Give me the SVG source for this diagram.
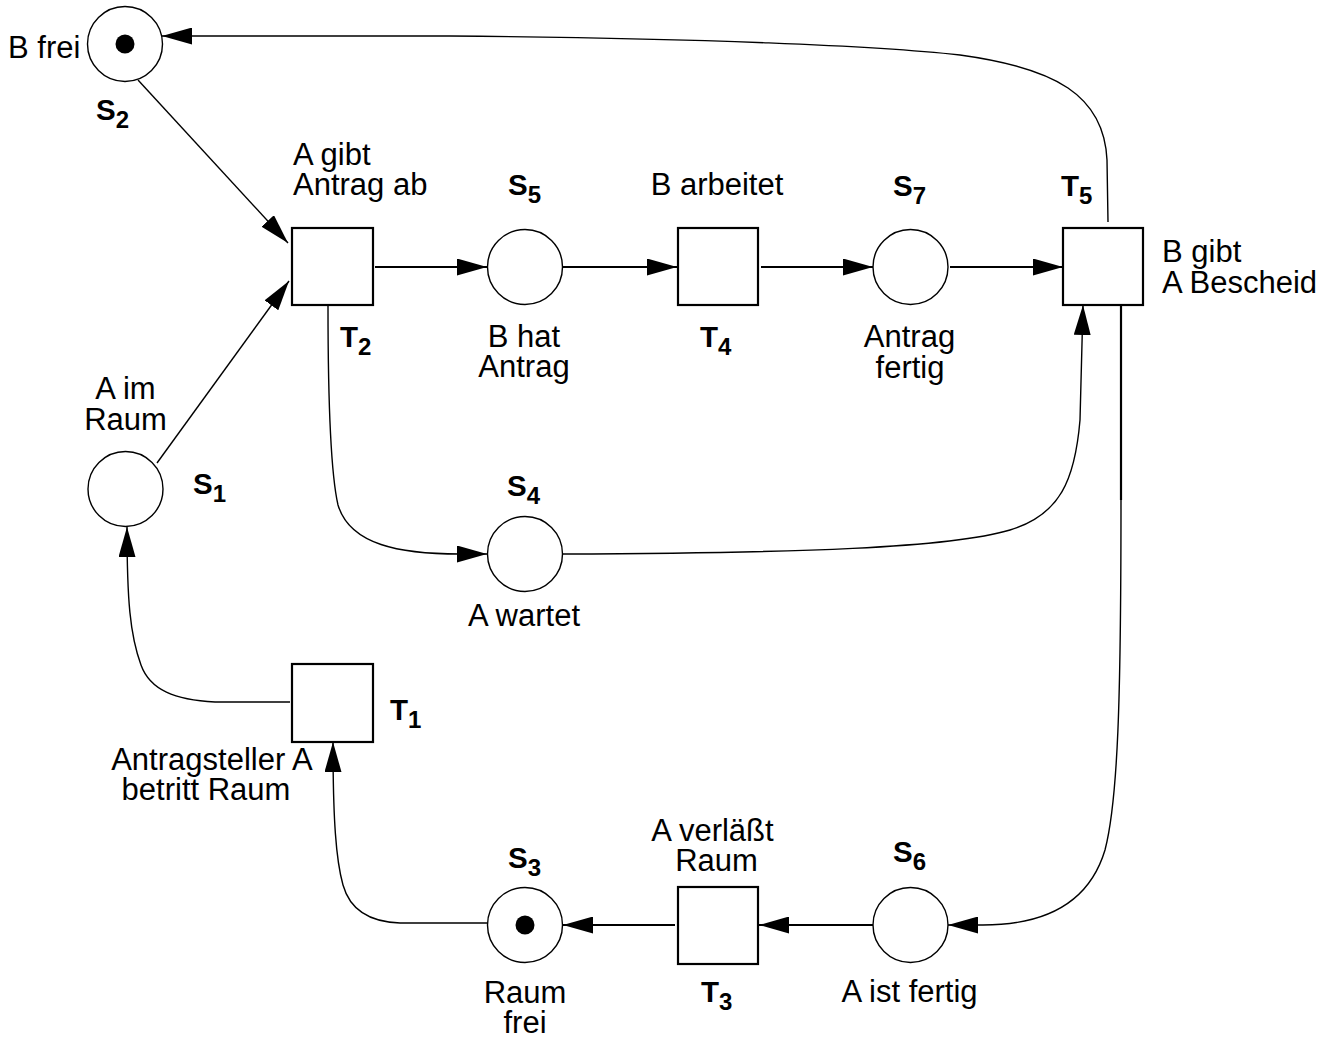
<svg xmlns="http://www.w3.org/2000/svg" width="1340" height="1039" viewBox="0 0 1340 1039">
<style>
  .place{fill:#fff;stroke:#000;stroke-width:1.4}
  .trans{fill:#fff;stroke:#000;stroke-width:2.2}
  .tok{fill:#000}
  .arc{fill:none;stroke:#000;stroke-width:1.4}
  .arcb{fill:none;stroke:#000;stroke-width:2.2}
  .lbl{font-family:"Liberation Sans",Arial,Helvetica,sans-serif;font-size:31px;fill:#000}
  .id{font-family:"Liberation Sans",Arial,Helvetica,sans-serif;font-size:29.5px;font-weight:bold;fill:#000}
  .sub{font-size:24px}
  .c{text-anchor:middle}
</style>
<defs>
  <marker id="ah" markerUnits="userSpaceOnUse" markerWidth="30" markerHeight="17" refX="30" refY="8.5" orient="auto">
    <path d="M0,0 L30,8.5 L0,17 z" fill="#000"/>
  </marker>
</defs>
<g id="connectors">
  <path class="arc" d="M1108,222 L1107,160 C1104,95 1055,68 960,55 C880,46 700,38 450,36 L162,36" marker-end="url(#ah)"/>
  <path class="arc" d="M138,80 L288,243" marker-end="url(#ah)"/>
  <path class="arc" d="M157,463 L289,281" marker-end="url(#ah)"/>
  <path class="arcb" d="M375,267 L487,267" marker-end="url(#ah)"/>
  <path class="arcb" d="M562,267 L677,267" marker-end="url(#ah)"/>
  <path class="arcb" d="M761,267 L873,267" marker-end="url(#ah)"/>
  <path class="arcb" d="M950,267 L1063,267" marker-end="url(#ah)"/>
  <path class="arc" d="M328,306 C328,400 330,470 338,505 C350,545 400,554 460,554 L487,554" marker-end="url(#ah)"/>
  <path class="arc" d="M563,554 C800,553 950,548 1010,530 C1060,515 1075,480 1080,420 L1083,305" marker-end="url(#ah)"/>
  <path class="arcb" d="M1121,306 L1121,500"/>
  <path class="arc" d="M1121,500 C1121,700 1118,800 1105,850 C1090,900 1050,925 983,925 L948,925" marker-end="url(#ah)"/>
  <path class="arcb" d="M873,925 L759,925" marker-end="url(#ah)"/>
  <path class="arcb" d="M675,925 L563,925" marker-end="url(#ah)"/>
  <path class="arc" d="M487,923 L400,923 C370,922 350,910 343,885 C336,860 333,820 333,742" marker-end="url(#ah)"/>
  <path class="arc" d="M290,702 L215,702 C175,700 150,690 141,665 C130,635 127,600 127,527" marker-end="url(#ah)"/>
</g>
<g id="S2">
  <circle class="place" cx="125" cy="44" r="37.5"/>
  <circle class="tok" cx="125" cy="44" r="9.5"/>
  <text class="lbl" x="8" y="58">B frei</text>
  <text class="id" x="96" y="120">S<tspan class="sub" dy="8">2</tspan></text>
</g>
<g id="T2">
  <rect class="trans" x="292" y="228" width="81" height="77"/>
  <text class="lbl" x="293" y="165">A gibt</text>
  <text class="lbl" x="293" y="195">Antrag ab</text>
  <text class="id" x="340" y="347">T<tspan class="sub" dy="8">2</tspan></text>
</g>
<g id="S5">
  <circle class="place" cx="525" cy="267" r="37.5"/>
  <text class="id" x="508" y="195">S<tspan class="sub" dy="8">5</tspan></text>
  <text class="lbl c" x="524" y="347">B hat</text>
  <text class="lbl c" x="524" y="377">Antrag</text>
</g>
<g id="T4">
  <rect class="trans" x="678" y="228" width="80" height="77"/>
  <text class="lbl c" x="717" y="195">B arbeitet</text>
  <text class="id" x="700" y="347">T<tspan class="sub" dy="8">4</tspan></text>
</g>
<g id="S7">
  <circle class="place" cx="910.5" cy="267" r="37.5"/>
  <text class="id" x="893" y="196">S<tspan class="sub" dy="8">7</tspan></text>
  <text class="lbl c" x="909.5" y="347">Antrag</text>
  <text class="lbl c" x="910" y="378">fertig</text>
</g>
<g id="T5">
  <rect class="trans" x="1063" y="228" width="80" height="77"/>
  <text class="id" x="1061" y="196">T<tspan class="sub" dy="8">5</tspan></text>
  <text class="lbl" x="1162" y="262">B gibt</text>
  <text class="lbl" x="1162" y="293">A Bescheid</text>
</g>
<g id="S1">
  <circle class="place" cx="125.5" cy="489" r="37.5"/>
  <text class="lbl c" x="125.5" y="399">A im</text>
  <text class="lbl c" x="125.5" y="430">Raum</text>
  <text class="id" x="193" y="494">S<tspan class="sub" dy="8">1</tspan></text>
</g>
<g id="S4">
  <circle class="place" cx="525" cy="554" r="37.5"/>
  <text class="id" x="507" y="496">S<tspan class="sub" dy="8">4</tspan></text>
  <text class="lbl c" x="524" y="626">A wartet</text>
</g>
<g id="T1">
  <rect class="trans" x="292" y="664" width="81" height="78"/>
  <text class="id" x="390" y="720">T<tspan class="sub" dy="8">1</tspan></text>
  <text class="lbl c" x="212" y="770">Antragsteller A</text>
  <text class="lbl c" x="206" y="800">betritt Raum</text>
</g>
<g id="S3">
  <circle class="place" cx="525" cy="925" r="37.5"/>
  <circle class="tok" cx="525" cy="925" r="9.5"/>
  <text class="id" x="508" y="868">S<tspan class="sub" dy="8">3</tspan></text>
  <text class="lbl c" x="525" y="1003">Raum</text>
  <text class="lbl c" x="525" y="1033">frei</text>
</g>
<g id="T3">
  <rect class="trans" x="678" y="887" width="80" height="77"/>
  <text class="lbl c" x="712.5" y="841">A verläßt</text>
  <text class="lbl c" x="716.5" y="871">Raum</text>
  <text class="id" x="701" y="1002">T<tspan class="sub" dy="8">3</tspan></text>
</g>
<g id="S6">
  <circle class="place" cx="910.5" cy="925" r="37.5"/>
  <text class="id" x="893" y="862">S<tspan class="sub" dy="8">6</tspan></text>
  <text class="lbl c" x="909.5" y="1002">A ist fertig</text>
</g>
</svg>
